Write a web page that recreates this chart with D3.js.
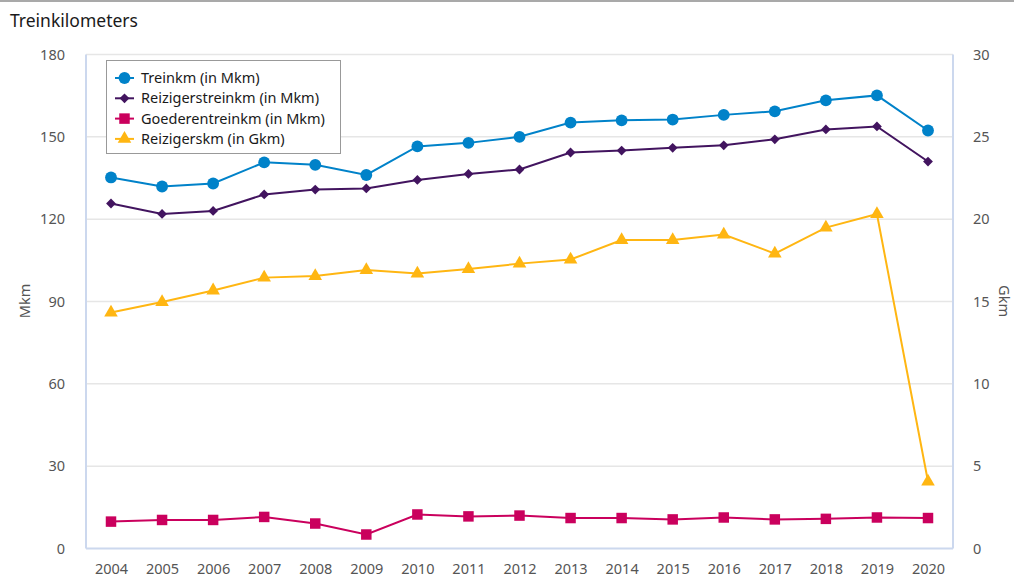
<!DOCTYPE html>
<html>
<head>
<meta charset="utf-8">
<script src="https://cdn.jsdelivr.net/npm/d3@7"></script>
<style>
  body { margin: 0; background: #fff; font-family: "Noto Sans", "Open Sans", sans-serif; }
  svg text { fill: #555; }
</style>
</head>
<body>
<svg id="chart" width="1014" height="578"></svg>
<script>
var years = [2004, 2005, 2006, 2007, 2008, 2009, 2010, 2011, 2012, 2013, 2014, 2015, 2016, 2017, 2018, 2019, 2020];
var treinkm = [135.2, 131.9, 133.0, 140.7, 139.8, 136.1, 146.5, 147.8, 150.0, 155.2, 156.0, 156.3, 158.0, 159.3, 163.3, 165.1, 152.3];
var reizigerstreinkm = [125.7, 121.9, 123.0, 129.0, 130.8, 131.2, 134.3, 136.5, 138.1, 144.3, 145.0, 146.0, 146.9, 149.1, 152.7, 153.8, 141.0];
var goederentreinkm = [9.8, 10.4, 10.4, 11.5, 9.1, 5.1, 12.4, 11.7, 12.0, 11.1, 11.1, 10.6, 11.3, 10.6, 10.8, 11.3, 11.1];
var reizigerskm = [14.33, 14.97, 15.67, 16.45, 16.55, 16.91, 16.70, 16.97, 17.30, 17.55, 18.73, 18.73, 19.07, 17.91, 19.49, 20.31, 4.07];
var leftTicks = [0, 30, 60, 90, 120, 150, 180];
var rightTicks = [0, 5, 10, 15, 20, 25, 30];

var series = [
  { name: "Treinkm (in Mkm)", values: treinkm, color: "#0082c9", symbol: d3.symbolCircle, size: 110, rot: 0, axis: "left" },
  { name: "Reizigerstreinkm (in Mkm)", values: reizigerstreinkm, color: "#42145f", symbol: d3.symbolSquare, size: 48, rot: 45, axis: "left" },
  { name: "Goederentreinkm (in Mkm)", values: goederentreinkm, color: "#ca005d", symbol: d3.symbolSquare, size: 110, rot: 0, axis: "left" },
  { name: "Reizigerskm (in Gkm)", values: reizigerskm, color: "#ffb612", symbol: d3.symbolTriangle, size: 80, rot: 0, axis: "right" }
];

var svg = d3.select("#chart");
var plotLeft = 86, plotRight = 953, plotTop = 54.5, plotBottom = 548.5;

var x = d3.scalePoint().domain(years).range([111, 928]);
var yL = d3.scaleLinear().domain([0, 180]).range([plotBottom, plotTop]);
var yR = d3.scaleLinear().domain([0, 30]).range([plotBottom, plotTop]);

// top rule and title
svg.append("line").attr("x1", 0).attr("x2", 1014).attr("y1", 1).attr("y2", 1)
  .attr("stroke", "#555").attr("stroke-width", 1.2);
svg.append("text").attr("x", 10).attr("y", 27).text("Treinkilometers")
  .style("font-size", "17.5px").style("fill", "#1a1a1a");

// gridlines
svg.append("g").selectAll("line").data(leftTicks.slice(1)).enter().append("line")
  .attr("x1", plotLeft).attr("x2", plotRight)
  .attr("y1", function(d) { return yL(d); }).attr("y2", function(d) { return yL(d); })
  .attr("stroke", "#e6e6e6").attr("stroke-width", 1.5);

// axis lines
svg.append("line").attr("x1", plotLeft).attr("x2", plotLeft).attr("y1", plotTop).attr("y2", plotBottom)
  .attr("stroke", "#ccd8ee").attr("stroke-width", 2);
svg.append("line").attr("x1", plotRight).attr("x2", plotRight).attr("y1", plotTop).attr("y2", plotBottom)
  .attr("stroke", "#ccd8ee").attr("stroke-width", 2);
svg.append("line").attr("x1", plotLeft).attr("x2", plotRight).attr("y1", plotBottom).attr("y2", plotBottom)
  .attr("stroke", "#ccd8ee").attr("stroke-width", 2);

// tick labels
var gl = svg.append("g").attr("transform", "translate(" + (plotLeft - 18) + ",0)")
  .call(d3.axisLeft(yL).tickValues(leftTicks).tickSize(0));
var gr = svg.append("g").attr("transform", "translate(" + (plotRight + 20) + ",0)")
  .call(d3.axisRight(yR).tickValues(rightTicks).tickSize(0));
var gb = svg.append("g").attr("transform", "translate(0," + (plotBottom + 12) + ")")
  .call(d3.axisBottom(x).tickSize(0).tickFormat(d3.format("d")));
[gl, gr, gb].forEach(function(g) {
  g.select(".domain").remove();
  g.selectAll("text").style("font-size", "14.5px").style("font-family", "\"Noto Sans\", sans-serif").attr("fill", "#555");
});
gr.selectAll("text").attr("x", 0);

svg.append("text").attr("transform", "translate(30,301) rotate(-90)")
  .attr("text-anchor", "middle").text("Mkm").style("font-size", "14.5px");
svg.append("text").attr("transform", "translate(999,301) rotate(90)")
  .attr("text-anchor", "middle").text("Gkm").style("font-size", "14.5px");

// lines and markers
series.forEach(function(s) {
  var y = s.axis === "left" ? yL : yR;
  var line = d3.line()
    .x(function(d, i) { return x(years[i]); })
    .y(function(d) { return y(d); });
  svg.append("path").datum(s.values)
    .attr("d", line).attr("fill", "none")
    .attr("stroke", s.color).attr("stroke-width", 2);
  svg.append("g").selectAll("path").data(s.values).enter().append("path")
    .attr("d", d3.symbol().type(s.symbol).size(s.size))
    .attr("transform", function(d, i) { return "translate(" + x(years[i]) + "," + y(d) + ") rotate(" + s.rot + ")"; })
    .attr("fill", s.color);
});

// legend
var legend = svg.append("g").attr("transform", "translate(106,60)");
legend.append("rect").attr("x", 0.5).attr("y", 0.5).attr("width", 234).attr("height", 93)
  .attr("fill", "#fff").attr("stroke", "#999").attr("stroke-width", 1);
series.forEach(function(s, i) {
  var row = legend.append("g").attr("transform", "translate(0," + (18 + i * 20.3) + ")");
  row.append("line").attr("x1", 9).attr("x2", 28).attr("y1", 0).attr("y2", 0)
    .attr("stroke", s.color).attr("stroke-width", 2);
  row.append("path").attr("d", d3.symbol().type(s.symbol).size(s.size))
    .attr("transform", "translate(18.5,0) rotate(" + s.rot + ")").attr("fill", s.color);
  row.append("text").attr("x", 35).attr("y", 5).text(s.name)
    .style("font-size", "14.5px").style("fill", "#1a1a1a");
});
</script>
</body>
</html>
